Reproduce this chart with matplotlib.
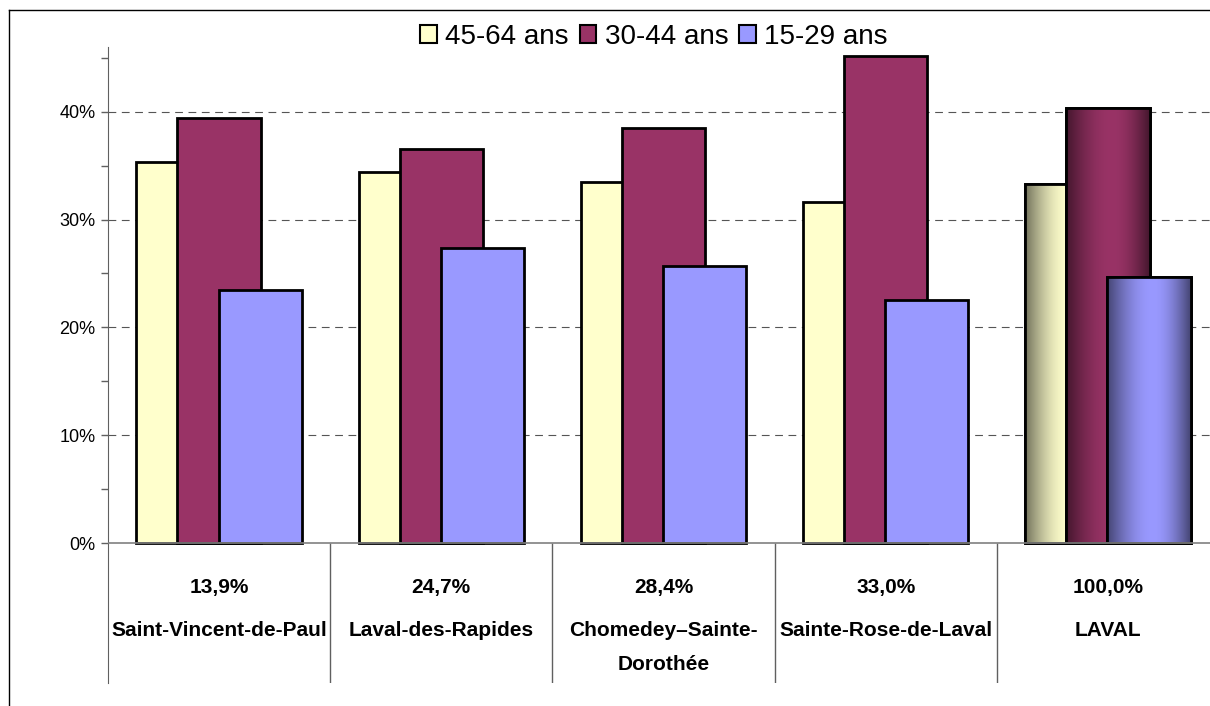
import numpy as np
import matplotlib
matplotlib.use("Agg")
import matplotlib.pyplot as plt
from matplotlib.lines import Line2D
from matplotlib.patches import Patch
from matplotlib.colors import to_rgb

# ==========================================================
# DATA
# ==========================================================
secteurs = ["Saint-Vincent-de-Paul", "Laval-des-Rapides",
            "Chomedey\u2013Sainte-\nDorothée", "Sainte-Rose-de-Laval", "LAVAL"]
poids = ["13,9%", "24,7%", "28,4%", "33,0%", "100,0%"]

groupes = ["45-64 ans", "30-44 ans", "15-29 ans"]
val_45_64 = [35.3, 34.4, 33.5, 31.6, 33.3]
val_30_44 = [39.4, 36.5, 38.5, 45.2, 40.3]
val_15_29 = [23.5, 27.4, 25.7, 22.5, 24.7]

couleurs = ["#FFFFCC", "#993366", "#9999FF"]

# ==========================================================
# FIGURE
# ==========================================================
W, H = 1210, 706
fig = plt.figure(figsize=(W / 100, H / 100), dpi=100)

# outer frame (left + top)
fig.add_artist(Line2D([9 / W, 9 / W], [0, 1 - 10 / H], color="black", lw=1.0))
fig.add_artist(Line2D([9 / W, 1], [1 - 10 / H, 1 - 10 / H], color="black", lw=1.0))

# axes: 0% at y=543 px, 46% at y=47 px, bottom at 683 px
ax_l, ax_r = 108, 1219
ax_t, ax_b = 47, 683
ax = fig.add_axes([ax_l / W, 1 - ax_b / H, (ax_r - ax_l) / W, (ax_b - ax_t) / H])

ymax = 46.0
px_per = (543 - 47) / ymax
ymin = -(ax_b - 543) / px_per
ax.set_ylim(ymin, ymax)
ax.set_xlim(0, len(secteurs))

x = np.arange(len(secteurs)) + 0.5
width = 0.375
offset = 0.185
series = [val_45_64, val_30_44, val_15_29]

def gradient_profile(n=200):
    t = np.linspace(0, 1, n)
    peak = 0.55
    s = np.where(t < peak, t / peak, (1 - t) / (1 - peak))
    s = np.sin(s * np.pi / 2)
    return 0.45 + 0.55 * s

for i, (vals, col) in enumerate(zip(series, couleurs)):
    xs = x + (i - 1) * offset
    z = 2 + i
    bars = ax.bar(xs, vals, width=width, color=col, edgecolor="black",
                  linewidth=2.0, zorder=z, label=groupes[i])
    # LAVAL bar with shaded gradient
    b = bars[-1]
    prof = gradient_profile()
    rgb = np.array(to_rgb(col))
    img = np.clip(prof[:, None] * rgb[None, :], 0, 1)[None, :, :]
    x0, w = b.get_x(), b.get_width()
    im = ax.imshow(img, extent=[x0, x0 + w, 0, b.get_height()], aspect="auto",
                   zorder=z + 0.1, interpolation="bilinear")
    im.set_clip_path(b)
    ax.bar([b.get_x() + w / 2], [b.get_height()], width=w, facecolor="none",
           edgecolor="black", linewidth=2.0, zorder=z + 0.2)

# grid lines
for g in [10, 20, 30, 40]:
    ax.axhline(g, color="#555555", lw=0.8, ls=(0, (7, 5)), zorder=1)

# x axis line and category dividers
ax.axhline(0, color="#808080", lw=1.2, zorder=10)
ax.vlines(np.arange(1, len(secteurs) + 1), ymin, 0, color="#606060", lw=1.0)

# y ticks
ax.set_yticks([0, 10, 20, 30, 40])
ax.set_yticklabels(["0%", "10%", "20%", "30%", "40%"],
                   fontsize=13, family="Liberation Sans")
ax.set_yticks([5, 15, 25, 35, 45], minor=True)
ax.tick_params(axis="y", which="both", length=5, width=1, color="#606060",
               direction="out", pad=4)
ax.set_xticks([])

for s in ["top", "right", "bottom"]:
    ax.spines[s].set_visible(False)
ax.spines["left"].set_color("#606060")

# category labels
for xi, p, nom in zip(x, poids, secteurs):
    ax.text(xi, -(588 - 543) / px_per, p, ha="center", va="center",
            fontsize=15, fontweight="bold", family="Liberation Sans")
    for k, ligne in enumerate(nom.split("\n")):
        ax.text(xi, -(630 + 35 * k - 543) / px_per, ligne, ha="center", va="center",
                fontsize=15, fontweight="bold", family="Liberation Sans")

# legend
handles = [Patch(facecolor=c, edgecolor="black", linewidth=1.5) for c in couleurs]
fig.legend(handles, groupes, loc="center", bbox_to_anchor=(654 / W, 1 - 37 / H),
           ncol=3, frameon=False, handlelength=0.6, handleheight=0.6,
           handletextpad=0.3, columnspacing=0.4,
           prop={"family": "Liberation Sans", "size": 20})

fig.savefig("out.png", dpi=100)
